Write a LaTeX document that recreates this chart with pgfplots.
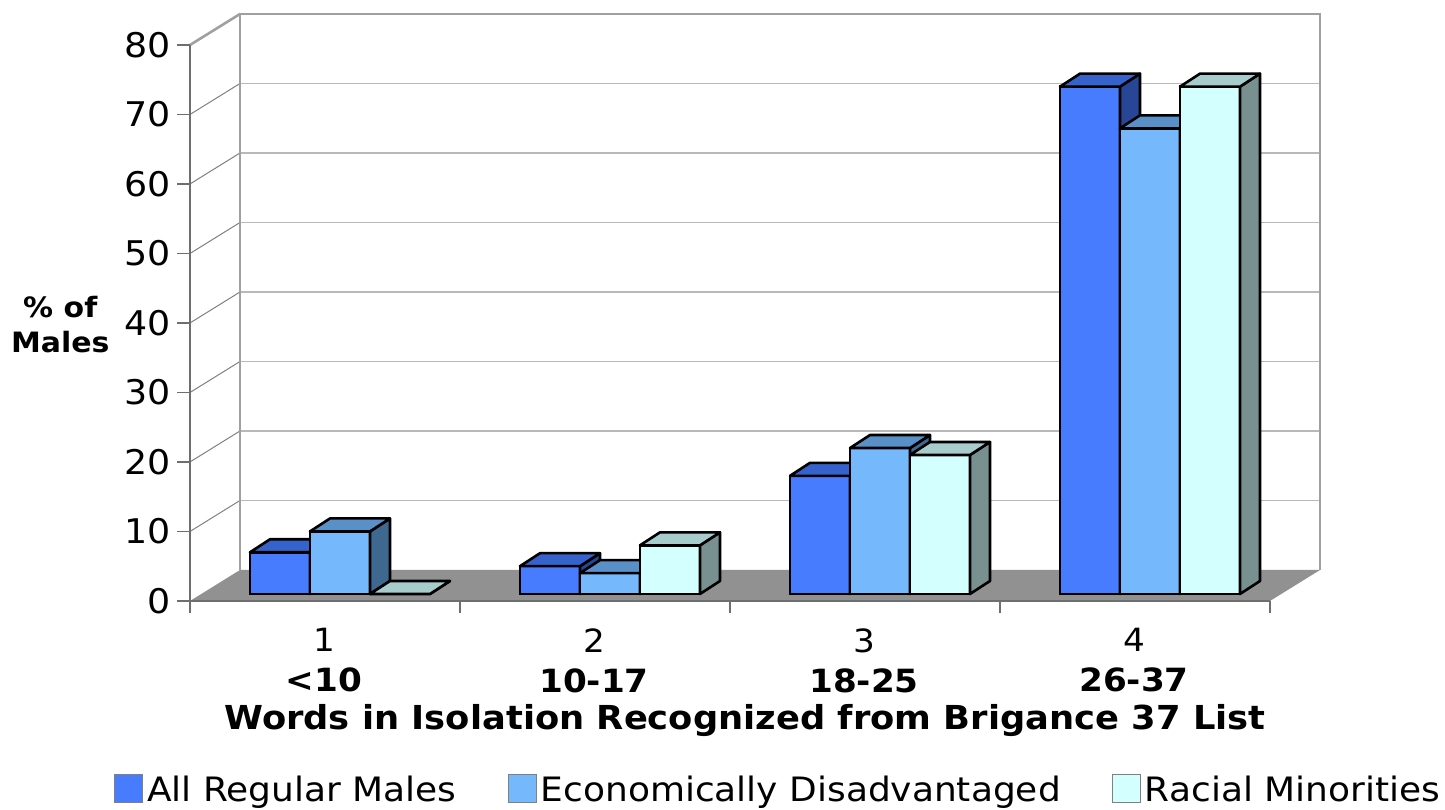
\documentclass[border=0pt]{standalone}
\usepackage{fontspec}
\setmainfont{DejaVu Sans}[FakeStretch=1.07]
\usepackage{pgfplots}
\usepackage{pgfplotstable}
\pgfplotsset{compat=1.18}
\definecolor{cA}{RGB}{72,124,255}
\definecolor{tA}{RGB}{54,98,204}
\definecolor{sA}{RGB}{40,70,150}
\definecolor{cB}{RGB}{118,184,252}
\definecolor{tB}{RGB}{90,144,200}
\definecolor{sB}{RGB}{62,104,144}
\definecolor{cC}{RGB}{212,255,255}
\definecolor{tC}{RGB}{168,204,204}
\definecolor{sC}{RGB}{120,144,144}
\definecolor{floorgray}{RGB}{145,145,145}
\definecolor{gridgray}{RGB}{185,185,185}
\definecolor{wallgray}{RGB}{160,160,160}
\definecolor{axgray}{RGB}{110,110,110}

\pgfplotstableread{
x a b c
1 6 9 0
2 4 3 7
3 17 21 20
4 73 67 73
}\data

\tikzset{bk/.style={xshift=17.5pt,yshift=12pt},fr/.style={xshift=-7.5pt,yshift=-3.5pt}}

% x, value, shift (pt), side colour, top colour
\newcommand\barfaces[5]{%
  \filldraw[fill=#4,draw=black,line width=1.3pt,line join=round]
    ([xshift=#3pt+15pt]axis cs:#1,0) -- ([xshift=#3pt+15pt]axis cs:#1,#2)
    -- ([xshift=#3pt+25pt,yshift=6.5pt]axis cs:#1,#2) -- ([xshift=#3pt+25pt,yshift=6.5pt]axis cs:#1,0) -- cycle;
  \filldraw[fill=#5,draw=black,line width=1.3pt,line join=round]
    ([xshift=#3pt-15pt]axis cs:#1,#2) -- ([xshift=#3pt+15pt]axis cs:#1,#2)
    -- ([xshift=#3pt+25pt,yshift=6.5pt]axis cs:#1,#2) -- ([xshift=#3pt-5pt,yshift=6.5pt]axis cs:#1,#2) -- cycle;
}
\newcommand\facesfor[4]{%
  \pgfplotsinvokeforeach{0,1,2,3}{%
    \pgfplotstablegetelem{##1}{x}\of\data\let\bx\pgfplotsretval
    \pgfplotstablegetelem{##1}{#1}\of\data\let\bv\pgfplotsretval
    \edef\tmp{\noexpand\barfaces{\bx}{\bv}{#2}{#3}{#4}}\tmp}%
}

\begin{document}
\begin{tikzpicture}
\begin{axis}[
  scale only axis, width=540pt, height=278pt,
  xmin=0.5, xmax=4.5, ymin=0, ymax=80,
  clip=false,
  axis line style={draw=none}, tick style={draw=none},
  ybar, bar width=30pt,
  ytick={0,10,...,80},
  xtick={1,2,3,4},
  xticklabels={{1\\\textbf{<10}},{2\\\textbf{10-17}},{3\\\textbf{18-25}},{4\\\textbf{26-37}}},
  xticklabel style={align=center, font=\fontsize{16}{20}\selectfont, xshift=-8pt, yshift=-9.5pt},
  yticklabel style={font=\fontsize{17}{20}\selectfont, xshift=-13.5pt, yshift=-3.5pt},
  /pgf/number format/assume math mode=true,
  xlabel={Words in Isolation Recognized from Brigance 37 List},
  xlabel style={at={(axis description cs:0.5,-0.227)}, anchor=center, font=\bfseries\fontsize{16.5}{19}\selectfont},
  ylabel={\% of\\Males},
  ylabel style={rotate=-90, at={(axis description cs:-0.134,0.484)}, anchor=center, align=center, font=\bfseries\fontsize{14}{17.5}\selectfont},
  legend style={at={(axis description cs:-0.09,-0.313)}, anchor=north west, draw=none, fill=none,
    legend columns=3, font=\fontsize{16.8}{20}\selectfont,
    /tikz/every even column/.append style={column sep=23.5pt}},
]
% floor and walls
\fill[floorgray] ([fr]axis cs:0.5,0) -- ([fr]axis cs:4.5,0) -- ([bk]axis cs:4.5,0) -- ([bk]axis cs:0.5,0) -- cycle;
\pgfplotsinvokeforeach{10,20,...,70}{%
  \draw[gridgray,line width=0.8pt] ([bk]axis cs:0.5,#1) -- ([bk]axis cs:4.5,#1);
  \draw[gray,line width=0.5pt] ([fr]axis cs:0.5,#1) -- ([bk]axis cs:0.5,#1);
}
\draw[wallgray,line width=1.3pt] ([bk]axis cs:0.5,0) -- ([bk]axis cs:0.5,80) -- ([bk]axis cs:4.5,80) -- ([bk]axis cs:4.5,0);
\draw[wallgray,line width=1.3pt] ([fr]axis cs:0.5,80) -- ([bk]axis cs:0.5,80);
\draw[axgray,line width=0.8pt] ([fr]axis cs:0.5,0) -- ([fr]axis cs:0.5,80);
\draw[axgray,line width=0.8pt] ([fr]axis cs:0.5,0) -- ([fr]axis cs:4.5,0);
\pgfplotsinvokeforeach{0,10,...,80}{%
  \draw[axgray,line width=0.6pt] ([fr]axis cs:0.5,#1) -- ([fr,xshift=-6.5pt]axis cs:0.5,#1);
}
\pgfplotsinvokeforeach{0.5,1.5,2.5,3.5,4.5}{%
  \draw[axgray,line width=0.6pt] ([fr]axis cs:#1,0) -- ([fr,yshift=-6pt]axis cs:#1,0);
}
% bars
\addplot[fill=cA, draw=black, line width=1.3pt, bar shift=-30pt,
  legend image code/.code={\draw[fill=cA,draw=gray,line width=0.6pt] (0pt,-6pt) rectangle (14pt,8pt);}]
  table[x=x,y=a]{\data};
\facesfor{a}{-30}{sA}{tA}
\addplot[fill=cB, draw=black, line width=1.3pt, bar shift=0pt,
  legend image code/.code={\draw[fill=cB,draw=gray,line width=0.6pt] (0pt,-6pt) rectangle (14pt,8pt);}]
  table[x=x,y=b]{\data};
\facesfor{b}{0}{sB}{tB}
\addplot[fill=cC, draw=black, line width=1.3pt, bar shift=30pt,
  legend image code/.code={\draw[fill=cC,draw=gray,line width=0.6pt] (0pt,-6pt) rectangle (14pt,8pt);}]
  table[x=x,y=c]{\data};
\facesfor{c}{30}{sC}{tC}
\legend{All Regular Males, Economically Disadvantaged, Racial Minorities}
\coordinate (bl) at (axis description cs:-0.18981,-0.38849);
\coordinate (tr) at (axis description cs:1.148148,1.068345);
\end{axis}
\pgfresetboundingbox
\path (bl) rectangle (tr);
\end{tikzpicture}
\end{document}
